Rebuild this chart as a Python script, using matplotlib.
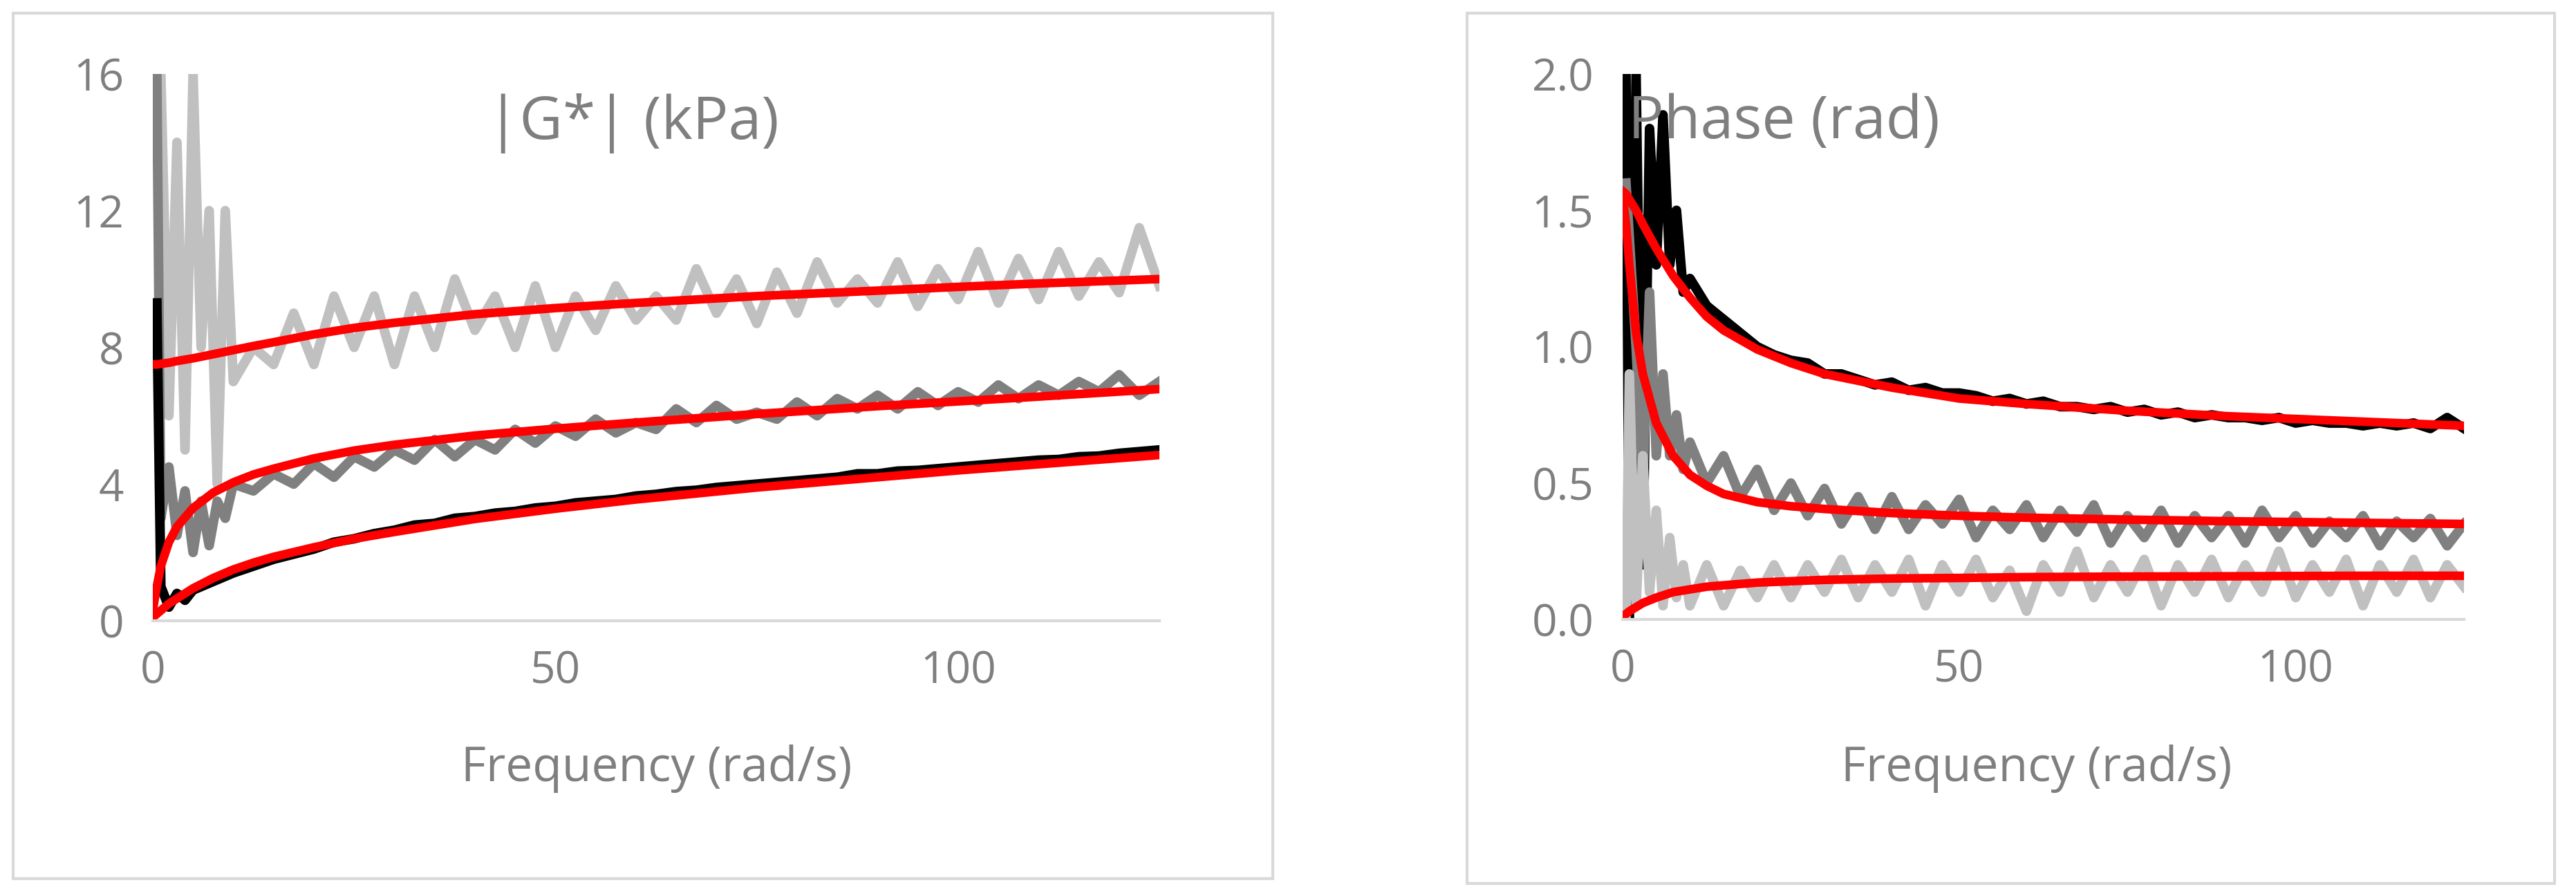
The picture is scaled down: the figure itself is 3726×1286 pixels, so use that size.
import matplotlib
matplotlib.use("Agg")
import matplotlib.pyplot as plt
from matplotlib.patches import Rectangle

F = [0.5,1,2,3,4,5,6,7,8,9,10,12.5,15,17.5,20,22.5,25,27.5,30,32.5,35,37.5,40,42.5,45,47.5,50,
     52.5,55,57.5,60,62.5,65,67.5,70,72.5,75,77.5,80,82.5,85,87.5,90,92.5,95,97.5,100,
     102.5,105,107.5,110,112.5,115,117.5,120,122.5,125]

G_light = [16,16,6,14,5,16,8,12,4,12,7,8,7.5,9,7.5,9.5,8,9.5,7.5,9.5,8,10,8.5,9.5,8,9.8,8,
           9.5,8.5,9.8,8.8,9.5,8.8,10.3,9,10,8.7,10.2,9,10.5,9.3,10,9.3,10.5,9.2,10.3,9.4,
           10.8,9.3,10.6,9.4,10.8,9.5,10.5,9.6,11.5,9.8]
G_mid = [16,3,4.5,2.5,3.8,2,3.5,2.2,3.5,3,4,3.8,4.3,4,4.6,4.2,4.8,4.5,5,4.7,5.3,4.8,5.3,5,5.6,5.2,5.7,
         5.4,5.9,5.5,5.8,5.6,6.2,5.8,6.3,5.9,6.1,5.9,6.4,6,6.5,6.2,6.6,6.2,6.7,6.3,6.7,
         6.4,6.9,6.5,6.9,6.6,7,6.7,7.2,6.6,7]
G_black = [9.3,1,0.4,0.8,0.6,0.9,1.0,1.1,1.2,1.3,1.4,1.6,1.8,1.95,2.1,2.3,2.4,2.55,2.65,2.8,2.85,3.0,3.05,
           3.15,3.2,3.3,3.35,3.45,3.5,3.55,3.65,3.7,3.78,3.82,3.9,3.95,4.0,4.05,4.1,4.15,4.2,4.3,4.3,
           4.38,4.4,4.45,4.5,4.55,4.6,4.65,4.7,4.72,4.8,4.82,4.9,4.95,5.0]

P_black = [2.0,0,2.0,0.2,1.8,1.3,1.85,1.3,1.5,1.2,1.25,1.15,1.1,1.05,1.0,0.97,0.95,0.94,0.9,0.9,0.88,0.86,
           0.87,0.84,0.85,0.83,0.83,0.82,0.8,0.81,0.79,0.8,0.78,0.78,0.77,0.78,0.76,0.77,0.75,0.76,0.74,
           0.75,0.74,0.74,0.73,0.74,0.72,0.73,0.72,0.72,0.71,0.72,0.71,0.72,0.7,0.74,0.7]
P_mid = [1.6,1.4,1.0,0.5,1.2,0.6,0.9,0.6,0.75,0.55,0.65,0.5,0.6,0.45,0.55,0.4,0.5,0.38,0.48,0.35,0.45,0.33,
         0.45,0.33,0.42,0.35,0.44,0.3,0.4,0.33,0.42,0.3,0.4,0.32,0.42,0.28,0.38,0.3,0.4,0.28,0.38,0.3,
         0.38,0.28,0.4,0.3,0.38,0.28,0.36,0.3,0.38,0.27,0.36,0.3,0.37,0.27,0.35]
P_light = [0,0.9,0.05,0.6,0.1,0.4,0.05,0.3,0.08,0.2,0.05,0.2,0.05,0.18,0.08,0.2,0.08,0.2,0.1,0.22,0.08,0.2,
           0.1,0.22,0.05,0.2,0.1,0.22,0.08,0.18,0.03,0.2,0.1,0.25,0.08,0.2,0.1,0.22,0.05,0.2,0.1,0.22,
           0.08,0.2,0.1,0.25,0.08,0.2,0.1,0.22,0.05,0.2,0.1,0.22,0.08,0.2,0.12]

# fitted curves
FIT_F = [0,0.5,1,2,3,5,7.5,10,12.5,15,20,25,30,40,50,60,75,90,100,110,125]
Gfit_light = [7.5,7.5,7.52,7.55,7.6,7.68,7.8,7.92,8.04,8.15,8.38,8.57,8.72,8.97,9.15,9.3,9.5,9.66,9.77,9.87,10.0]
Gfit_mid = [0.3,1.0,1.6,2.3,2.75,3.3,3.75,4.05,4.28,4.45,4.75,4.98,5.15,5.42,5.62,5.8,6.05,6.28,6.42,6.56,6.78]
Gfit_black = [0.1,0.2,0.3,0.5,0.65,0.95,1.25,1.5,1.7,1.87,2.15,2.4,2.6,2.98,3.28,3.55,3.9,4.2,4.4,4.58,4.85]
Pfit_black = [1.57,1.56,1.54,1.5,1.45,1.36,1.26,1.18,1.11,1.06,0.99,0.94,0.9,0.85,0.81,0.79,0.765,0.745,0.735,0.725,0.71]
Pfit_mid = [1.55,1.45,1.3,1.05,0.9,0.72,0.6,0.53,0.49,0.46,0.43,0.415,0.405,0.39,0.38,0.373,0.366,0.36,0.357,0.354,0.35]
Pfit_light = [0.01,0.02,0.03,0.045,0.06,0.08,0.1,0.11,0.12,0.125,0.135,0.14,0.145,0.15,0.152,0.155,0.157,0.158,0.159,0.16,0.16]

LIGHT, MID, BLACK, RED = "#c0c0c0", "#808080", "#000000", "#ff0000"
TXT = "#7f7f7f"
FONT = "Open Sans"
LW_DATA, LW_FIT = 10, 9

fig = plt.figure(figsize=(37.26, 12.86), dpi=100)
W, H = 3726, 1286

for (x0, y0, x1, y1) in [(19, 19, 1841, 1271), (2122, 19, 3695, 1278)]:
    fig.patches.append(Rectangle((x0 / W, 1 - y1 / H), (x1 - x0) / W, (y1 - y0) / H,
                                 transform=fig.transFigure, fill=False,
                                 edgecolor="#d9d9d9", lw=3))

def style(ax, ylim, yticks, ylabels):
    ax.set_xlim(0, 125)
    ax.set_ylim(*ylim)
    ax.set_xticks([0, 50, 100])
    ax.set_yticks(yticks)
    ax.set_yticklabels(ylabels)
    for s in ["left", "top", "right"]:
        ax.spines[s].set_visible(False)
    ax.spines["bottom"].set_color("#d9d9d9")
    ax.spines["bottom"].set_linewidth(3)
    ax.tick_params(length=0, labelsize=46, colors=TXT, pad=30)
    for t in ax.get_xticklabels() + ax.get_yticklabels():
        t.set_fontfamily(FONT)

ax1 = fig.add_axes([221 / W, 1 - 898 / H, (1677 - 221) / W, (898 - 107) / H])
ax1.plot(F, G_light, color=LIGHT, lw=LW_DATA)
ax1.plot(F, G_mid, color=MID, lw=LW_DATA)
ax1.plot(F, G_black, color=BLACK, lw=LW_DATA)
for y in (Gfit_light, Gfit_mid, Gfit_black):
    ax1.plot(FIT_F, y, color=RED, lw=LW_FIT)
style(ax1, (0, 16), [0, 4, 8, 12, 16], ["0", "4", "8", "12", "16"])

ax2 = fig.add_axes([2347 / W, 1 - 896 / H, (3564 - 2347) / W, (896 - 107) / H])
ax2.plot(F, P_black, color=BLACK, lw=LW_DATA)
ax2.plot(F, P_mid, color=MID, lw=LW_DATA)
ax2.plot(F, P_light, color=LIGHT, lw=LW_DATA)
for y in (Pfit_black, Pfit_mid, Pfit_light):
    ax2.plot(FIT_F, y, color=RED, lw=LW_FIT)
style(ax2, (0, 2), [0, 0.5, 1.0, 1.5, 2.0], ["0.0", "0.5", "1.0", "1.5", "2.0"])

fig.text(915 / W, 1 - 178 / H, "|G*| (kPa)", ha="center", va="center", fontsize=62, color=TXT, family=FONT)
fig.text(2580 / W, 1 - 178 / H, "Phase (rad)", ha="center", va="center", fontsize=62, color=TXT, family=FONT)
fig.text(950 / W, 1 - 1112 / H, "Frequency (rad/s)", ha="center", va="center", fontsize=50, color=TXT, family=FONT)
fig.text(2946 / W, 1 - 1112 / H, "Frequency (rad/s)", ha="center", va="center", fontsize=50, color=TXT, family=FONT)

fig.savefig("out.png", dpi=100, facecolor="white")
